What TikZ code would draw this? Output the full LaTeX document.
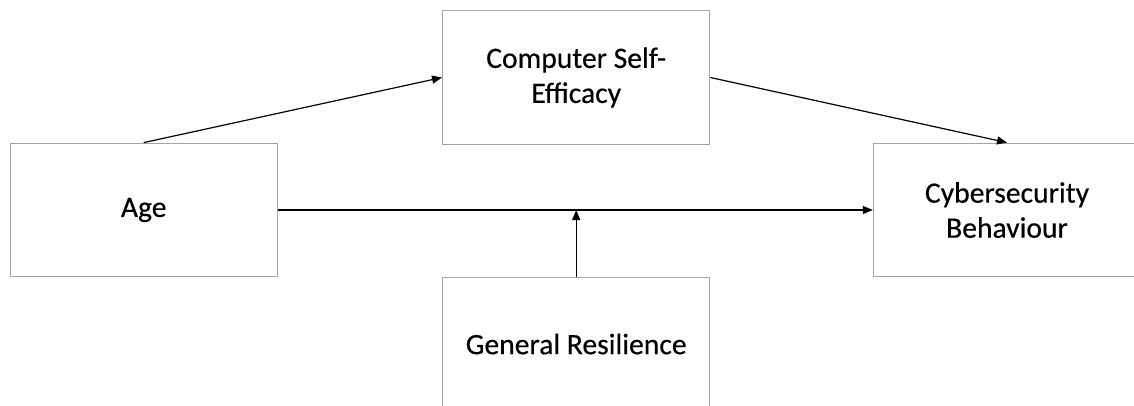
\documentclass[tikz,border=0pt]{standalone}
\usepackage{fontspec}
\setmainfont{Carlito}[FakeBold=0.4]
\usetikzlibrary{arrows.meta}
\definecolor{boxgray}{RGB}{165,165,165}
\tikzset{
  box/.style={draw=boxgray, line width=1.3pt, rectangle, minimum width=267pt, minimum height=133.5pt,
    align=center, font=\fontsize{29.6}{35}\selectfont, inner sep=0pt},
  conn/.style={draw=black, line width=1.2pt, -{Triangle[length=10pt,width=8pt]}}
}
\begin{document}
\begin{tikzpicture}[x=1pt,y=1pt]
\useasboundingbox (0,0) rectangle (1134,-405);
\clip (0,0) rectangle (1134,-405);
\fill[white] (0,0) rectangle (1134,-405);
\node[box] (age) at (143.7,-210) {Age};
\node[box] (cse) at (576.2,-77.5) {Computer Self-\\Efficacy};
\node[box] (cyb) at (1007,-210) {Cybersecurity\\Behaviour};
\node[box] (res) at (576.2,-344) {General Resilience};
\coordinate (mid) at (576.2,-210);
\draw[conn] (age.north) -- (cse.west);
\draw[conn] (cse.east) -- (cyb.north);
\draw[conn] (age.east) -- (cyb.west);
\draw[conn] (res.north) -- (mid);
\end{tikzpicture}
\end{document}
